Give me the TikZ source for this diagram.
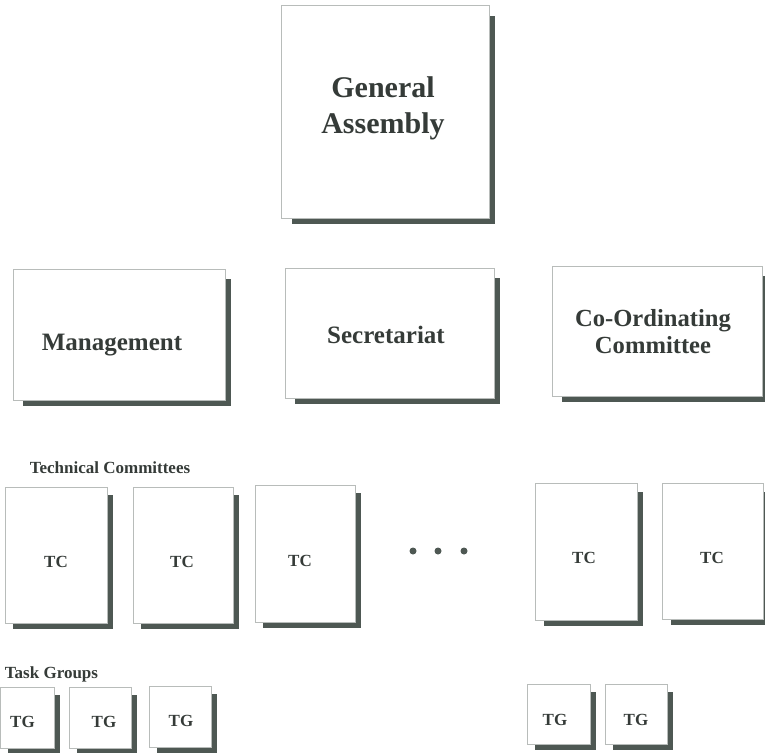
\documentclass[tikz,border=0pt]{standalone}
\usepackage{fontspec}
\setmainfont{Liberation Serif}
\usetikzlibrary{fit}
\definecolor{shadowc}{HTML}{4E5853}
\definecolor{txtc}{HTML}{353B38}
\definecolor{edgec}{HTML}{B8BCBA}
\tikzset{
  boxst/.style={draw=edgec, line width=0.6pt, fill=white, inner sep=0pt},
  lbl/.style={text=txtc, font=\bfseries, anchor=base, inner sep=0pt, align=center},
  dotst/.style={circle, fill=shadowc, inner sep=0pt, minimum size=7pt},
}
% name, x1, y1, x2, y2, shadow offset
\newcommand\ShBox[6]{%
  \fill[shadowc] (#2+#6,#3+#6) rectangle (#4+6,#5+6);
  \node[boxst, fit={(#2,#3) (#4,#5)}] (#1) {};
}
\begin{document}
\begin{tikzpicture}[x=1pt,y=-1pt]
\useasboundingbox (0,0) rectangle (765,752);
\clip (0,0) rectangle (765,752);
\fill[white] (0,0) rectangle (765,752);
% top level
\ShBox{ga}{281}{5}{489}{218}{11}
\node[lbl, font=\bfseries\fontsize{30}{36}\selectfont] (gat) at (383,133) {General\\Assembly};
% second level
\ShBox{mg}{13}{269}{225}{400}{10}
\node[lbl, font=\bfseries\fontsize{25}{30}\selectfont] (mgt) at (112,350) {Management};
\ShBox{se}{285}{268}{494}{398}{10}
\node[lbl, font=\bfseries\fontsize{25}{30}\selectfont] (set) at (386,343) {Secretariat};
\ShBox{co}{552}{266}{762}{396}{10}
\node[lbl, font=\bfseries\fontsize{24.6}{27}\selectfont] (cot) at (653,353) {Co-Ordinating\\Committee};
% technical committees
\node[lbl, font=\bfseries\fontsize{17}{20}\selectfont] (tclbl) at (110,473) {Technical Committees};
\ShBox{tc1}{5}{487}{107}{623}{8}
\ShBox{tc2}{133}{487}{233}{623}{8}
\ShBox{tc3}{255}{485}{355}{622}{8}
\ShBox{tc4}{535}{483}{637}{620}{9}
\ShBox{tc5}{662}{483}{763}{619}{9}
\node[lbl, font=\bfseries\fontsize{17}{20}\selectfont] (tc1t) at (56,567) {TC};
\node[lbl, font=\bfseries\fontsize{17}{20}\selectfont] (tc2t) at (182,567) {TC};
\node[lbl, font=\bfseries\fontsize{17}{20}\selectfont] (tc3t) at (300,566) {TC};
\node[lbl, font=\bfseries\fontsize{17}{20}\selectfont] (tc4t) at (584,563) {TC};
\node[lbl, font=\bfseries\fontsize{17}{20}\selectfont] (tc5t) at (712,563) {TC};
\node[dotst] (d1) at (413,551) {};
\node[dotst] (d2) at (438,551) {};
\node[dotst] (d3) at (464,551) {};
% task groups
\node[lbl, font=\bfseries\fontsize{17}{20}\selectfont] (tglbl) at (51.5,678) {Task Groups};
\ShBox{tg1}{0}{687}{54}{748}{8}
\ShBox{tg2}{69}{687}{131}{748}{8}
\ShBox{tg3}{149}{686}{211}{747}{8}
\ShBox{tg4}{527}{684}{590}{744}{8}
\ShBox{tg5}{605}{684}{667}{744}{8}
\node[lbl, font=\bfseries\fontsize{17}{20}\selectfont] (tg1t) at (22.5,727) {TG};
\node[lbl, font=\bfseries\fontsize{17}{20}\selectfont] (tg2t) at (104,727) {TG};
\node[lbl, font=\bfseries\fontsize{17}{20}\selectfont] (tg3t) at (181,726) {TG};
\node[lbl, font=\bfseries\fontsize{17}{20}\selectfont] (tg4t) at (555,725) {TG};
\node[lbl, font=\bfseries\fontsize{17}{20}\selectfont] (tg5t) at (636,725) {TG};
\end{tikzpicture}
\end{document}
